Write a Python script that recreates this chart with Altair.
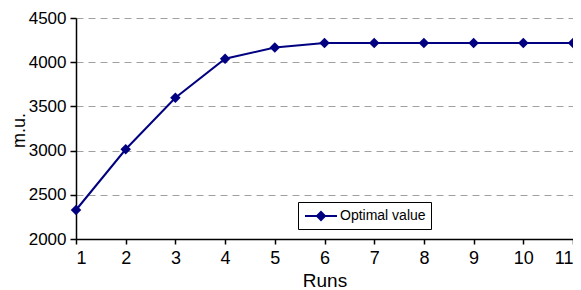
import altair as alt
import pandas as pd

runs = [1, 2, 3, 4, 5, 6, 7, 8, 9, 10, 11]
optimal_value = [2328, 3015, 3598, 4040, 4165, 4217, 4217, 4217, 4217, 4217, 4217]
series = ["Optimal value"] * len(runs)

df = pd.DataFrame({"Runs": runs, "Value": optimal_value, "Series": series})

NAVY = "#000080"
FONT = "Liberation Sans"

color = alt.Color(
    "Series:N",
    scale=alt.Scale(range=[NAVY]),
    legend=alt.Legend(
        title=None,
        orient="none",
        legendX=222,
        legendY=184,
        direction="vertical",
        symbolType="M-0.875,0H3.125M1.125,-0.5L1.625,0L1.125,0.5L0.625,0Z",
        symbolSize=256,
        symbolStrokeWidth=2,
        symbolFillColor=NAVY,
        symbolStrokeColor=NAVY,
        labelFont=FONT,
        labelFontSize=14,
        labelColor="black",
        strokeColor="black",
        fillColor="white",
        padding=5,
        labelOffset=19,
        cornerRadius=0,
    ),
)

x = alt.X(
    "Runs:Q",
    scale=alt.Scale(domain=[1, 11], nice=False, zero=False),
    axis=alt.Axis(
        values=runs,
        format="d",
        title="Runs",
        grid=False,
        tickSize=5,
        labelPadding=5,
        labelFontSize=18,
        titleY=47,
        titleBaseline="alphabetic",
    ),
)
y = alt.Y(
    "Value:Q",
    scale=alt.Scale(domain=[2000, 4500], nice=False, zero=False),
    axis=alt.Axis(
        values=[2000, 2500, 3000, 3500, 4000, 4500],
        format="d",
        title="m.u.",
        grid=True,
        gridDash=[7, 5],
        gridColor="#a0a0a0",
        gridWidth=1,
        tickSize=6,
        labelPadding=4,
        labelFontSize=17,
        titleFontSize=18,
        titleX=-52,
        titleY=112,
        titleAngle=-90,
        titleBaseline="alphabetic",
        titleAlign="center",
    ),
)

line = alt.Chart(df).mark_line(strokeWidth=2, color=NAVY).encode(x=x, y=y, color=color)
pts = alt.Chart(df).mark_point(shape="diamond", size=110, filled=True, opacity=1, color=NAVY).encode(
    x=x, y=y, color=alt.Color("Series:N", scale=alt.Scale(range=[NAVY]), legend=None)
)

chart = (
    alt.layer(line, pts)
    .properties(
        width=497,
        height=221,
        autosize=alt.AutoSizeParams(type="none"),
        padding={"left": 68, "top": 10, "right": 0, "bottom": 51},
    )
    .configure_view(stroke=None)
    .configure_axis(
        domainColor="black",
        domainWidth=1.5,
        tickColor="black",
        tickWidth=1.5,
        labelFont=FONT,
        labelColor="black",
        titleFont=FONT,
        titleFontSize=19,
        titleFontWeight="normal",
        titleColor="black",
    )
)

chart.save("out.html", embed_options={"renderer": "svg", "actions": False})
